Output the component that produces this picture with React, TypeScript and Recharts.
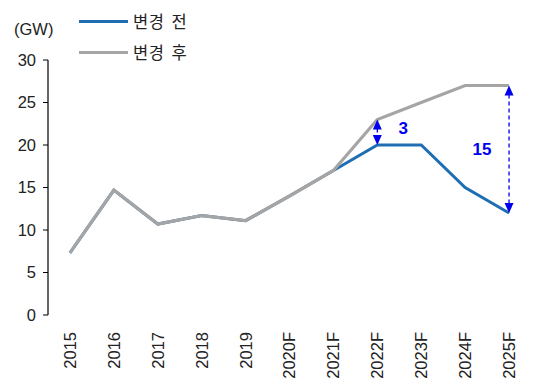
import React from 'react';
import { LineChart, Line, XAxis, YAxis, ReferenceLine } from 'recharts';

const years = ['2015', '2016', '2017', '2018', '2019', '2020F', '2021F', '2022F', '2023F', '2024F', '2025F'];
const beforeChange = [7.3, 14.7, 10.7, 11.7, 11.1, 14.0, 17.0, 20, 20, 15, 12];
const afterChange = [7.3, 14.7, 10.7, 11.7, 11.1, 14.0, 17.0, 23, 25, 27, 27];
const yTicks = [0, 5, 10, 15, 20, 25, 30];
const gapYears = ['2022F', '2025F'];

const data = years.map((y, i) => ({ x: i + 0.5, year: y, before: beforeChange[i], after: afterChange[i] }));
const boundaryTicks = years.map((_, i) => i).concat([years.length]);
const centerTicks = years.map((_, i) => i + 0.5);

const BLUE = '#1F6EB3';
const GRAY = '#A5A5A5';
const ARROW = '#0000EE';
const FONT = '"Liberation Sans", Arial, sans-serif';
const KFONT = '"Noto Sans CJK KR", "Liberation Sans", sans-serif';
const FS = 16.5;

const XTick = (props: any) => {
  const { x, y, payload } = props;
  const label = years[Math.round(payload.value - 0.5)];
  return (
    <text
      x={x}
      y={y}
      transform={`rotate(-90, ${x}, ${y})`}
      textAnchor="end"
      dy="0.36em"
      fontSize={FS}
      fill="#222"
      fontFamily={FONT}
    >
      {label}
    </text>
  );
};

const makeArrow = (label: string, labelDx: number, labelDy: number) => (props: any) => {
  const { x1, y1, x2, y2 } = props;
  const top = Math.min(y1, y2);
  const bot = Math.max(y1, y2);
  const h = 10;
  const w = 4.5;
  return (
    <g>
      <line x1={x1} y1={top + h - 1} x2={x2} y2={bot - h + 1} stroke={ARROW} strokeWidth={1.3} strokeDasharray="4 3" />
      <polygon points={`${x1},${top} ${x1 - w},${top + h} ${x1 + w},${top + h}`} fill={ARROW} />
      <polygon points={`${x1},${bot} ${x1 - w},${bot - h} ${x1 + w},${bot - h}`} fill={ARROW} />
      <text
        x={x1 + labelDx}
        y={(top + bot) / 2 + labelDy}
        fill={ARROW}
        fontSize={17}
        fontWeight="bold"
        fontFamily={FONT}
        textAnchor="middle"
        dominantBaseline="central"
      >
        {label}
      </text>
    </g>
  );
};

const App = () => {
  return (
    <div style={{ position: 'absolute', left: 0, top: 0, width: 546, height: 385, background: '#fff' }}>
      <div style={{ position: 'absolute', left: 14, top: 20, fontFamily: FONT, fontSize: FS, color: '#222' }}>(GW)</div>
      <div style={{ position: 'absolute', left: 79, top: 9, fontFamily: KFONT, fontSize: FS, color: '#222', letterSpacing: 0.5, wordSpacing: 3 }}>
        <div style={{ display: 'flex', alignItems: 'center', height: 24 }}>
          <div style={{ width: 49, height: 3, background: BLUE, marginRight: 5 }} />
          <span>변경 전</span>
        </div>
        <div style={{ display: 'flex', alignItems: 'center', height: 24, marginTop: 7 }}>
          <div style={{ width: 49, height: 3, background: GRAY, marginRight: 5 }} />
          <span>변경 후</span>
        </div>
      </div>
      <LineChart width={546} height={385} data={data} margin={{ top: 60, right: 15, bottom: 0, left: 0 }}>
        <XAxis
          xAxisId="grid"
          type="number"
          dataKey="x"
          domain={[0, years.length]}
          ticks={boundaryTicks}
          tick={false}
          tickLine={{ stroke: '#000' }}
          tickSize={5}
          axisLine={{ stroke: '#000', strokeWidth: 1.2 }}
          height={0}
        />
        <XAxis
          xAxisId="labels"
          type="number"
          dataKey="x"
          domain={[0, years.length]}
          ticks={centerTicks}
          tick={<XTick />}
          tickLine={false}
          axisLine={false}
          tickMargin={11}
          height={70}
          interval={0}
        />
        <YAxis
          type="number"
          domain={[0, 30]}
          ticks={yTicks}
          width={48}
          tickSize={5}
          tickMargin={7}
          tickLine={{ stroke: '#000' }}
          axisLine={{ stroke: '#000', strokeWidth: 1.2 }}
          tick={{ fill: '#222', fontSize: FS, fontFamily: FONT }}
          interval={0}
        />
        <Line xAxisId="labels" type="linear" dataKey="before" stroke={BLUE} strokeWidth={3} dot={false} isAnimationActive={false} />
        <Line xAxisId="labels" type="linear" dataKey="after" stroke={GRAY} strokeWidth={3.2} dot={false} isAnimationActive={false} />
        {gapYears.map((g, k) => {
          const i = years.indexOf(g);
          const diff = afterChange[i] - beforeChange[i];
          const shape = k === 0 ? makeArrow(String(diff), 26, -4) : makeArrow(String(diff), -27, 0);
          return (
            <ReferenceLine
              key={g}
              xAxisId="labels"
              segment={[{ x: i + 0.5, y: beforeChange[i] }, { x: i + 0.5, y: afterChange[i] }]}
              shape={shape}
              ifOverflow="visible"
            />
          );
        })}
      </LineChart>
    </div>
  );
};

export default App;
